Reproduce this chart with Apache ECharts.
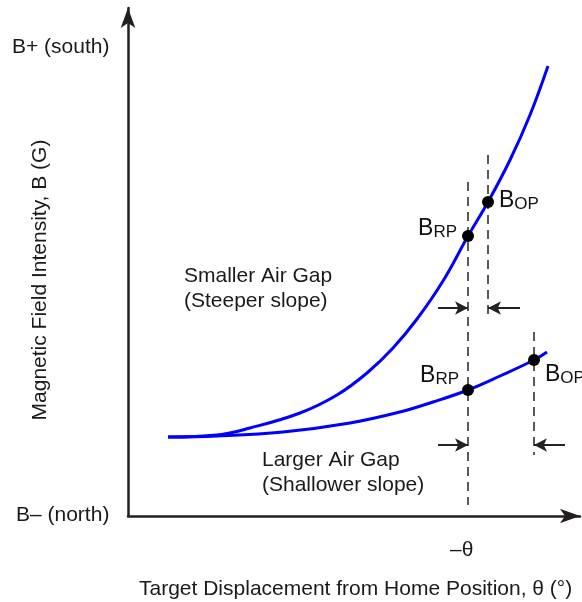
<!DOCTYPE html>
<html>
<head>
<meta charset="utf-8">
<script src="https://cdn.jsdelivr.net/npm/echarts@6/dist/echarts.min.js"></script>
<style>
  html, body { margin: 0; padding: 0; background: #fff; }
  #chart { width: 582px; height: 602px; }
</style>
</head>
<body>
<div id="chart"></div>
<script>
// 曲线数据 (x: 位移, y: 磁场强度, 任意单位)
var steepCurve = [[40, 79], [89, 81], [122, 88], [172, 103], [209, 121], [239, 143],
  [265, 168], [289, 197], [315, 235], [340, 280], [360, 314], [382, 356], [402, 401], [420, 450]];
var shallowCurve = [[40, 79], [89, 80], [155, 84], [222, 93], [272, 104], [305, 114],
  [340, 126], [372, 140], [406, 156], [419, 164]];
// 释放点 / 动作点
var steepPoints = [[340, 280, 'RP'], [360, 314, 'OP']];
var shallowPoints = [[340, 126, 'RP'], [406, 156, 'OP']];
// 虚线位置
var dashLines = [
  [[340, 334], [340, 11]],
  [[360, 361], [360, 196]],
  [[406, 184], [406, 61]]
];
// 宽度箭头
var widthArrows = [
  [[310, 208], [340, 208]],
  [[392, 208], [360, 208]],
  [[310, 71], [340, 71]],
  [[437, 71], [406, 71]]
];

var font = 'Liberation Sans, Arial, sans-serif';
var myChart = echarts.init(document.getElementById('chart'));

var hiddenAxis = {
  type: 'value',
  axisTick: { show: false },
  axisLabel: { show: false },
  splitLine: { show: false },
  axisLine: {
    show: true,
    symbol: ['none', 'arrow'],
    symbolSize: [11, 20],
    lineStyle: { color: '#231f20', width: 2.5 }
  }
};

// B 带下标的标签
function pointLabel(position, offset) {
  return {
    show: true,
    position: position,
    distance: 5,
    offset: offset,
    color: '#111',
    formatter: function (p) { return '{b|B}{s|' + p.value[2] + '}'; },
    rich: {
      b: { fontSize: 23, color: '#111', fontFamily: font },
      s: { fontSize: 17, color: '#111', fontFamily: font, verticalAlign: 'bottom' }
    }
  };
}

var series = [
  {
    type: 'line', data: steepCurve, smooth: 0.4, symbol: 'none',
    lineStyle: { color: '#0000ff', width: 3 }, z: 3
  },
  {
    type: 'line', data: shallowCurve, smooth: 0.4, symbol: 'none',
    lineStyle: { color: '#0000ff', width: 3 }, z: 3
  }
];

dashLines.forEach(function (d) {
  series.push({
    type: 'line', data: d, symbol: 'none', silent: true,
    lineStyle: { color: '#222', width: 1.5, type: [9, 6] }, z: 2
  });
});

series.push({
  type: 'line', data: [], silent: true,
  markLine: {
    silent: true, symbol: ['none', 'arrow'], symbolSize: [10, 13],
    label: { show: false },
    lineStyle: { color: '#222', width: 2, type: 'solid' },
    data: widthArrows.map(function (a) { return [{ coord: a[0] }, { coord: a[1] }]; })
  }
});

series.push({
  type: 'scatter', z: 5, symbolSize: 12,
  itemStyle: { color: '#000', opacity: 1 },
  data: [
    { value: steepPoints[0], label: pointLabel('left', [0, -7]) },
    { value: steepPoints[1], label: pointLabel('right', [0, -1]) },
    { value: shallowPoints[0], label: pointLabel('left', [2, -14]) },
    { value: shallowPoints[1], label: pointLabel('right', [0, 15]) }
  ]
});

function txt(str, x, y, extra) {
  return Object.assign({
    type: 'text', x: x, y: y,
    style: {
      text: str, font: '21px ' + font, fill: '#1a1a1a',
      align: 'left', verticalAlign: 'middle'
    }
  }, extra || {});
}

var option = {
  animation: false,
  grid: { left: 128, right: 2, top: 8, bottom: 86 },
  xAxis: Object.assign({}, hiddenAxis, { min: 0, max: 452 }),
  yAxis: Object.assign({}, hiddenAxis, { min: 0, max: 508 }),
  series: series,
  graphic: [
    txt('B+ (south)', 12, 47),
    txt('B– (north)', 16, 515),
    txt('–θ', 450, 550),
    txt('Target Displacement from Home Position, θ (°)', 139, 589),
    txt('Smaller Air Gap', 184, 276),
    txt('(Steeper slope)', 184, 301),
    txt('Larger Air Gap', 262, 460),
    txt('(Shallower slope)', 262, 485),
    {
      type: 'text', x: 40, y: 280, rotation: Math.PI / 2,
      style: {
        text: 'Magnetic Field Intensity, B (G)', font: '21px ' + font, fill: '#1a1a1a',
        align: 'center', verticalAlign: 'middle'
      }
    }
  ]
};
myChart.setOption(option);
</script>
</body>
</html>
